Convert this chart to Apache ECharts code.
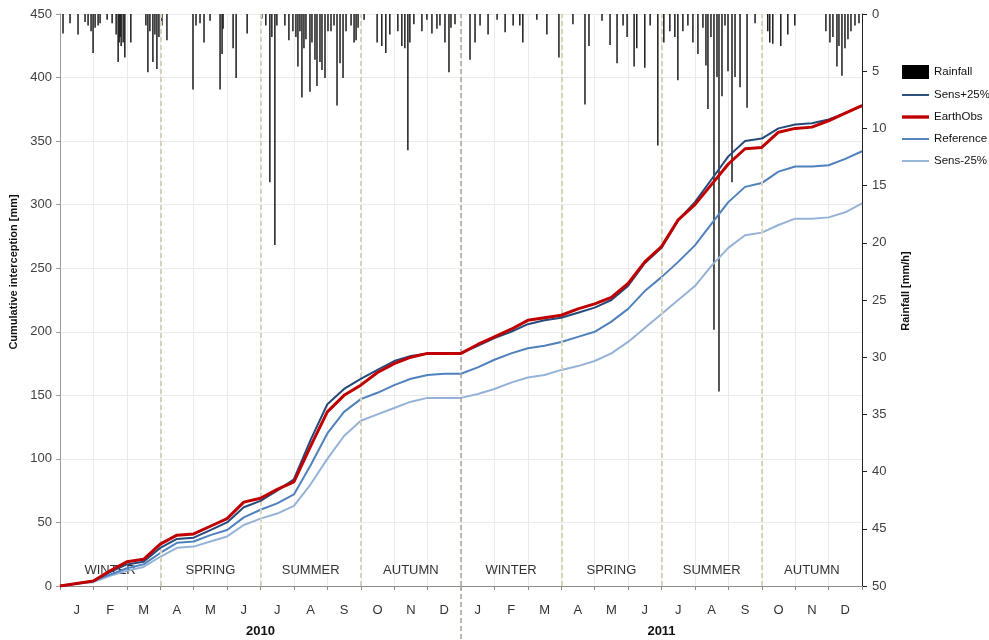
<!DOCTYPE html>
<html>
<head>
<meta charset="utf-8">
<script src="https://cdn.jsdelivr.net/npm/echarts@6/dist/echarts.min.js"></script>
<style>html,body{margin:0;padding:0;background:#fff}#c{width:989px;height:640px}</style>
</head>
<body>
<div id="c"></div>
<script>
// time in months since 1 Jan 2010
var monthLabels = ['J','F','M','A','M','J','J','A','S','O','N','D','J','F','M','A','M','J','J','A','S','O','N','D'];
var yearLabels = ['2010','2011'];
var seasonNames = ['WINTER','SPRING','SUMMER','AUTUMN','WINTER','SPRING','SUMMER','AUTUMN'];
var seasonBounds = [0,3,6,9,12,15,18,21,24];

var tMonths = [0,0.5,1,1.5,2,2.5,3,3.5,4,4.5,5,5.5,6,6.5,7,7.5,8,8.5,9,9.5,10,10.5,11,11.5,12,
  12.5,13,13.5,14,14.5,15,15.5,16,16.5,17,17.5,18,18.5,19,19.5,20,20.5,21,21.5,22,22.5,23,23.5,24];

var earthObs = [0,2,4,12,19,21,33,40,41,47,53,66,69,76,82,110,137,150,158,168,175,180,183,183,183,
  190,196,202,209,211,213,218,222,227,238,255,267,288,300,316,332,344,345,357,360,361,366,372,378];
var sensPlus = [0,2,4,11,17,19,30,37,38,44,50,62,67,75,84,115,143,155,163,170,177,181,183,183,183,
  189,195,200,206,209,211,215,219,225,236,254,266,288,302,320,338,350,352,360,363,364,367,372,378];
var reference = [0,2,4,9,14,17,26,34,35,40,44,54,60,65,72,95,120,137,147,152,158,163,166,167,167,
  172,178,183,187,189,192,196,200,208,218,232,243,255,268,285,302,314,317,326,330,330,331,336,342];
var sensMinus = [0,2,3,8,12,15,23,30,31,35,39,48,53,57,63,80,100,118,130,135,140,145,148,148,148,
  151,155,160,164,166,170,173,177,183,192,203,214,225,236,252,266,276,278,284,289,289,290,294,301];

var rainMonth = [0.09,0.30,0.54,0.75,0.84,0.93,0.99,1.05,1.14,1.20,1.41,1.56,1.68,1.74,1.77,1.80,1.83,1.89,1.94,2.12,
  2.57,2.63,2.69,2.78,2.84,2.90,2.96,3.05,3.20,3.98,4.07,4.19,4.31,4.49,4.79,4.85,4.88,5.18,5.27,5.60,
  6.04,6.16,6.28,6.34,6.43,6.49,6.73,6.85,6.97,7.06,7.12,7.18,7.24,7.30,7.36,7.48,7.54,7.63,7.69,7.78,
  7.84,7.93,8.02,8.11,8.20,8.29,8.38,8.47,8.56,8.71,8.80,8.86,8.92,9.10,9.49,9.63,9.75,9.87,10.11,10.23,
  10.32,10.41,10.47,10.59,10.83,10.98,11.13,11.28,11.37,11.52,11.64,11.70,11.82,12.27,12.42,12.57,12.81,13.08,13.32,13.56,
  13.76,13.85,14.27,14.57,14.93,15.35,15.71,15.83,16.22,16.46,16.67,16.85,16.97,17.18,17.26,17.50,17.66,17.89,18.07,18.25,
  18.40,18.49,18.64,18.79,18.94,19.09,19.24,19.33,19.39,19.48,19.57,19.66,19.72,19.81,19.90,19.99,20.11,20.20,20.35,20.56,
  20.80,21.18,21.24,21.33,21.57,21.78,21.99,22.92,23.04,23.13,23.25,23.31,23.40,23.49,23.58,23.67,23.79,23.91];
var rainValue = [1.7,0.8,1.8,0.7,1.0,1.5,3.4,1.2,1.0,0.8,0.5,0.8,1.8,4.2,2.5,2.0,2.8,2.5,3.8,2.5,
  1.0,5.1,1.5,4.2,1.8,4.8,2.0,1.0,2.3,6.6,1.0,0.8,2.5,0.6,6.6,3.5,1.3,3.0,5.6,1.7,
  0.4,1.0,14.7,2.0,20.2,1.0,1.0,2.3,1.5,2.0,4.6,1.5,7.3,3.0,2.2,6.8,2.5,4.0,6.3,4.2,
  4.9,5.6,1.5,1.5,1.0,8.0,4.3,5.6,1.5,1.0,2.5,2.3,1.2,0.5,2.5,2.8,3.4,1.8,1.5,2.8,
  3.0,11.9,2.5,0.9,1.5,0.5,1.7,1.3,1.0,2.5,5.1,1.2,0.9,4.0,2.5,1.0,1.8,0.5,1.6,1.0,
  1.0,2.5,0.5,1.8,3.8,0.9,7.9,2.8,0.6,2.7,4.3,1.0,2.0,4.6,3.0,4.7,1.0,11.5,2.5,1.5,
  2.0,5.8,1.5,1.0,2.5,3.5,1.2,4.5,8.3,2.0,27.6,5.5,33.0,7.2,1.0,5.0,14.7,5.5,6.4,8.2,
  0.8,1.5,2.5,2.6,2.8,1.8,1.0,1.5,2.5,2.0,4.6,2.8,5.4,3.0,2.2,1.5,1.0,0.8];

var FONT = 'Liberation Sans';
function pairs(xs, ys){ return xs.map(function(x,i){ return [x, ys[i]]; }); }

var seasonAreas = seasonNames.map(function(n,i){
  return [{xAxis: seasonBounds[i], name: n}, {xAxis: seasonBounds[i+1]}];
});
var dividerLines = seasonBounds.slice(1,-1).map(function(b){
  return b === 12 ? {xAxis: b, lineStyle:{color:'#a8a39a', type:[5,3], width:1.5}}
                  : {xAxis: b, lineStyle:{color:'#d9d2bc', type:[5,3], width:2}};
});

var thinIcon = 'path://M0,0 H28 V2 H0 Z';
var thickIcon = 'path://M0,0 H28 V3.5 H0 Z';

var chart = echarts.init(document.getElementById('c'), null, {renderer:'canvas'});
chart.setOption({
  animation: false,
  textStyle: {fontFamily: FONT},
  grid: {left: 60, right: 127, top: 14, bottom: 54, containLabel: false},
  legend: {
    orient: 'vertical', left: 897, top: 60, itemGap: 10, itemWidth: 27, itemHeight: 14,
    data: [
      {name:'Rainfall', icon:'rect', itemStyle:{color:'#000'}},
      {name:'Sens+25%', icon: thinIcon},
      {name:'EarthObs', icon: thickIcon},
      {name:'Reference', icon: thinIcon},
      {name:'Sens-25%', icon: thinIcon}
    ],
    textStyle: {fontFamily: FONT, fontSize: 11.5, color: '#111'}
  },
  xAxis: [
    {type:'value', min:0, max:24, interval:1, position:'bottom',
     axisLine:{show:true, onZero:false, lineStyle:{color:'#8c8c8c'}},
     axisTick:{show:true, length:4, lineStyle:{color:'#8c8c8c'}},
     axisLabel:{show:false},
     splitLine:{show:true, lineStyle:{color:'#ebebeb'}}},
    {type:'category', data: monthLabels, position:'bottom', offset:0, boundaryGap:true,
     axisLine:{show:false}, axisTick:{show:false}, splitLine:{show:false},
     axisLabel:{margin:18, fontSize:13, color:'#333', fontFamily: FONT, interval:0}},
    {type:'category', data: yearLabels, position:'bottom', offset:0, boundaryGap:true,
     axisLine:{show:false}, axisTick:{show:false}, splitLine:{show:false},
     axisLabel:{margin:39, fontSize:13, fontWeight:'bold', color:'#111', fontFamily: FONT}},
    {type:'value', min:0, max:24, position:'bottom', offset:0,
     axisLine:{show:false}, axisLabel:{show:false}, splitLine:{show:false},
     axisTick:{show:true, customValues:[12], length:54, lineStyle:{color:'#a8a39a', type:[5,3], width:1.5}}}
  ],
  yAxis: [
    {type:'value', min:0, max:450, interval:50, position:'left',
     name:'Cumulative interception [mm]', nameLocation:'middle', nameGap:34, nameRotate:90,
     nameTextStyle:{fontSize:11, fontWeight:'bold', color:'#111', fontFamily: FONT, padding:[0,0,0,56]},
     axisLine:{show:true, onZero:false, lineStyle:{color:'#9a9a9a'}},
     axisTick:{show:true, length:4, lineStyle:{color:'#9a9a9a'}},
     axisLabel:{fontSize:13, color:'#404040', margin:8},
     splitLine:{show:true, lineStyle:{color:'#ebebeb'}}},
    {type:'value', min:0, max:50, interval:5, inverse:true, position:'right',
     name:'Rainfall [mm/h]', nameLocation:'middle', nameGap:38, nameRotate:90,
     nameTextStyle:{fontSize:11, fontWeight:'bold', color:'#111', fontFamily: FONT, padding:[0,0,0,18]},
     axisLine:{show:true, onZero:false, lineStyle:{color:'#222'}},
     axisTick:{show:true, length:5, lineStyle:{color:'#222'}},
     axisLabel:{fontSize:13, color:'#404040', margin:10},
     splitLine:{show:false}}
  ],
  series: [
    {name:'Rainfall', type:'bar', xAxisIndex:0, yAxisIndex:1, barWidth:1.5,
     itemStyle:{color:'#1c1c1c'}, data: pairs(rainMonth, rainValue), z:2},
    {name:'Sens-25%', type:'line', xAxisIndex:0, yAxisIndex:0, symbol:'none',
     lineStyle:{color:'#95b3d7', width:2}, itemStyle:{color:'#95b3d7'}, data: pairs(tMonths, sensMinus), z:3,
     markArea:{silent:true, itemStyle:{color:'rgba(0,0,0,0)'},
       label:{show:true, position:'insideBottom', distance:9, fontSize:13, color:'#333', fontFamily: FONT},
       data: seasonAreas},
     markLine:{silent:true, symbol:'none', label:{show:false}, data: dividerLines}},
    {name:'Reference', type:'line', xAxisIndex:0, yAxisIndex:0, symbol:'none',
     lineStyle:{color:'#4f81bd', width:2}, itemStyle:{color:'#4f81bd'}, data: pairs(tMonths, reference), z:4},
    {name:'Sens+25%', type:'line', xAxisIndex:0, yAxisIndex:0, symbol:'none',
     lineStyle:{color:'#254a7a', width:2}, itemStyle:{color:'#254a7a'}, data: pairs(tMonths, sensPlus), z:5},
    {name:'EarthObs', type:'line', xAxisIndex:0, yAxisIndex:0, symbol:'none',
     lineStyle:{color:'#c00000', width:3}, itemStyle:{color:'#c00000'}, data: pairs(tMonths, earthObs), z:6}
  ]
});
</script>
</body>
</html>
